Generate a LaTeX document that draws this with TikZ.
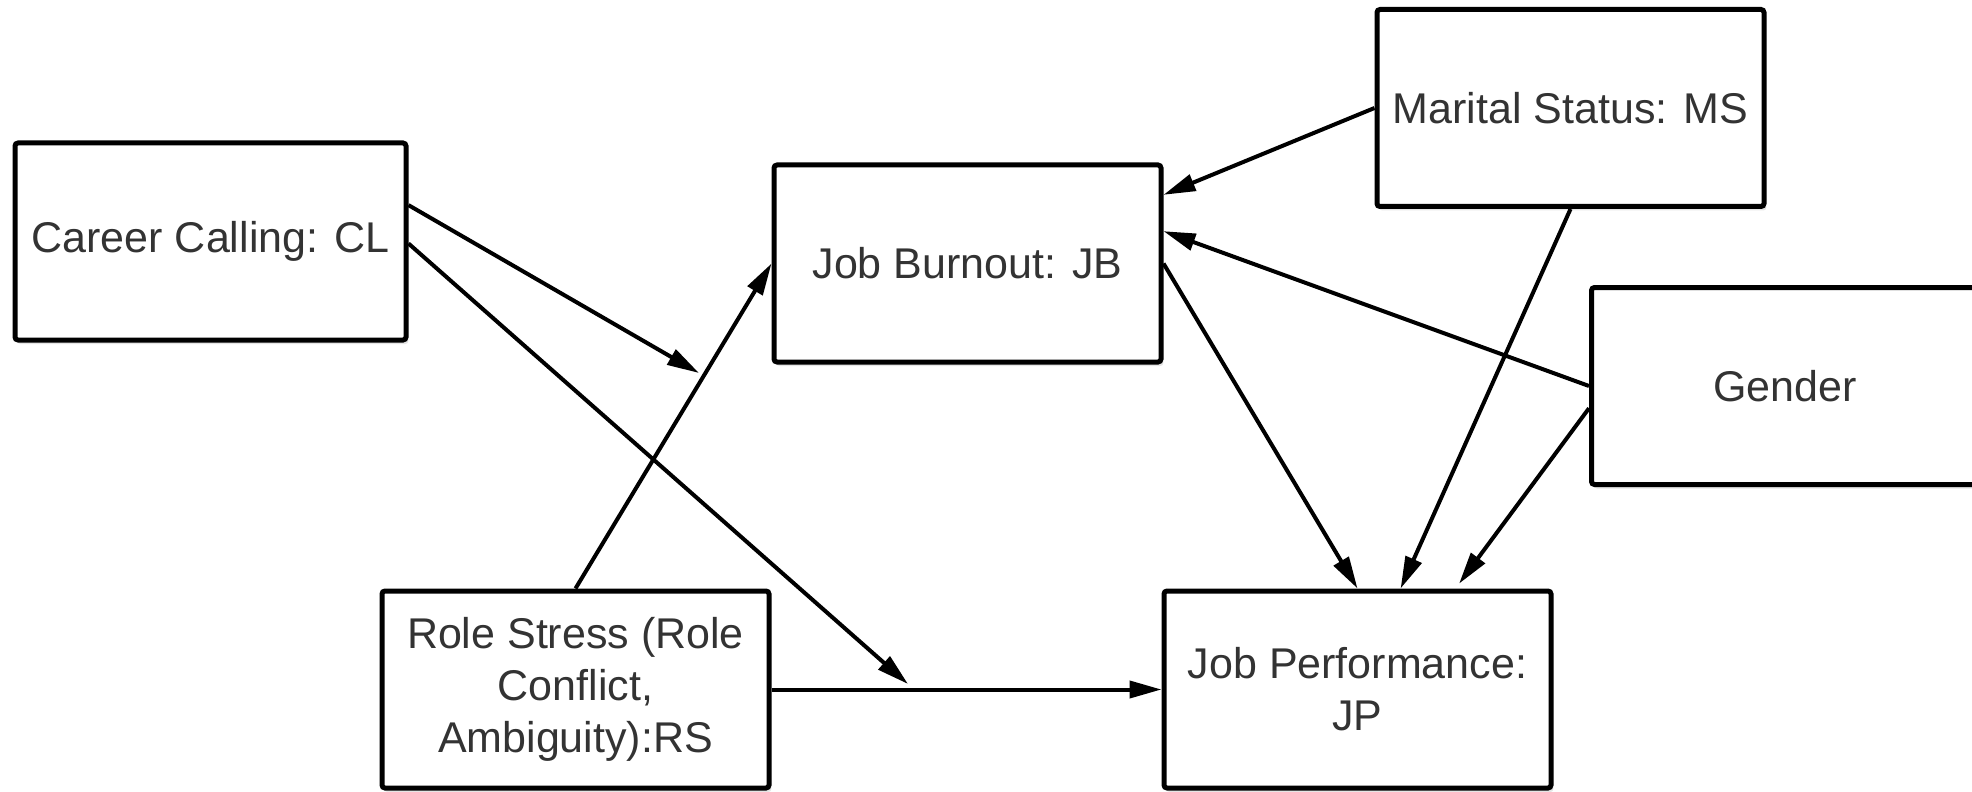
\documentclass[tikz,border=0pt]{standalone}
\usepackage{fontspec}
\setmainfont{Liberation Sans}
\usetikzlibrary{arrows.meta,calc,shadows}

\begin{document}
\begin{tikzpicture}[x=0.5pt,y=-0.5pt,
  box/.style={draw=black, line width=2.5pt, rounded corners=1.5pt, fill=white,
    minimum width=193.5pt, minimum height=98.5pt, inner sep=0pt,
    align=center, text=black!80,
    font=\fontsize{21.5}{26}\selectfont,
    general shadow={fill=black!10, shadow xshift=1.2pt, shadow yshift=-2pt}},
  link/.style={line width=2pt, -{Triangle[length=16pt,width=8.5pt]}}]

\useasboundingbox (0,0) rectangle (1972,792);
\clip (0,0) rectangle (1972,792);

% factors
\node[box, minimum width=195.5pt] (CL) at (210.5,241.5) {Career Calling: CL};
\node[box] (JB) at (967.5,263.5) {Job Burnout: JB};
\node[box] (MS) at (1570.5,108) {Marital Status: MS};
\node[box] (GE) at (1785,386) {Gender};
\node[box] (JP) at (1357.5,689.5) {Job Performance:\\JP};
\node[box] (RS) at (575.5,689.5) {Role Stress (Role\\Conflict,\\Ambiguity):RS};

% loose arrow ends from career calling
\coordinate (m1) at (699,373);
\coordinate (m2) at (908,684);

% paths
\draw[link] ($(CL.north east)!0.32!(CL.south east)$) -- (m1);
\draw[link] ($(CL.north east)!0.51!(CL.south east)$) -- (m2);
\draw[link] (RS.east) -- (JP.west);
\draw[link] (RS.north) -- (JB.west);
\draw[link] (MS.west) -- ($(JB.north east)!0.16!(JB.south east)$);
\draw[link] (GE.west) -- ($(JB.north east)!0.34!(JB.south east)$);
\draw[link] (JB.east) -- (JP.north);
\draw[link] (MS.south) -- ($(JP.north west)!0.61!(JP.north east)$);
\draw[link, shorten >=3pt] ($(GE.north west)!0.61!(GE.south west)$) -- ($(JP.north west)!0.75!(JP.north east)$);

\end{tikzpicture}
\end{document}
